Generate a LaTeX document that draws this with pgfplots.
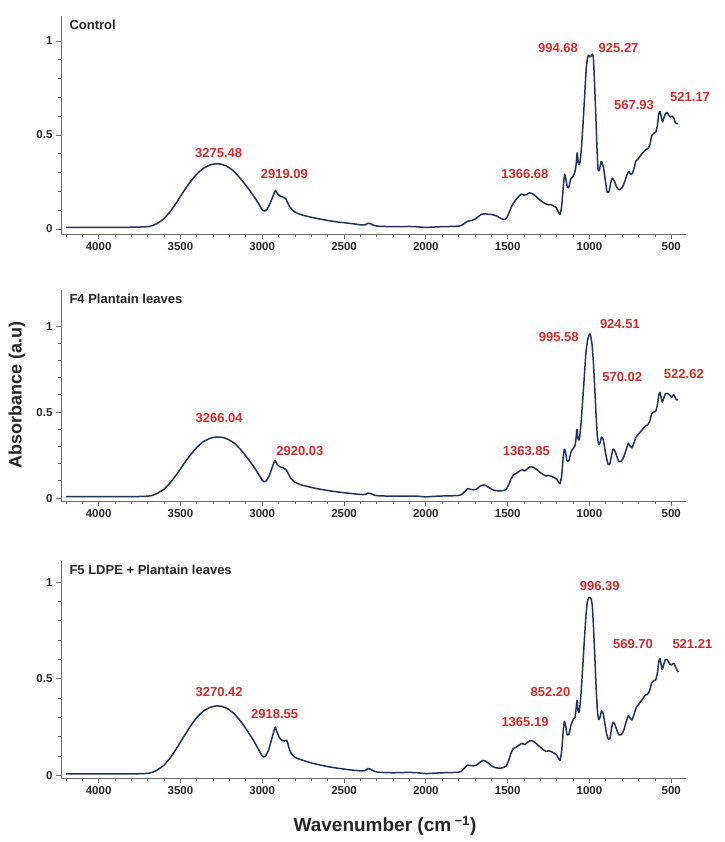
\documentclass[border=0pt]{standalone}
\usepackage{fontspec}
\setmainfont{Liberation Sans}
\usepackage{pgfplots}
\pgfplotsset{compat=1.18}

\definecolor{spec}{RGB}{33,50,92}
\definecolor{peaklbl}{RGB}{206,44,44}
\definecolor{axgray}{RGB}{105,105,105}

\pgfplotsset{
  ftir/.style={
    scale only axis, width=625pt,
    x dir=reverse, xmin=410, xmax=4230,
    axis lines=left, axis line style={-, axgray, line width=0.9pt},
    xtick={500,1000,...,4000}, minor xtick={500,600,...,4200},
    ytick={0,0.5,1}, minor ytick={0,0.1,...,1},
    tick align=outside, major tick length=5pt, minor tick length=3pt,
    every tick/.style={axgray, line width=0.8pt},
    tick label style={font=\fontsize{11.5}{12}\selectfont\bfseries, color=black!85},
    /pgf/number format/assume math mode=true,
    /pgf/number format/set thousands separator={},
    clip=false,
  },
  spectrum/.style={spec, line width=1.5pt, line join=round, no markers, smooth, tension=0.3},
}
\tikzset{
  lbl/.style={font=\fontsize{13}{14}\selectfont\bfseries, text=peaklbl},
  ttl/.style={font=\fontsize{13}{14}\selectfont\bfseries, text=black!85, anchor=west, yshift=-9pt},
}

\begin{document}
\begin{tikzpicture}
\path[use as bounding box] (0,0) rectangle (724pt,842pt);

% ---------------- Control ----------------
\begin{axis}[ftir, at={(61pt,608pt)}, anchor=south west, height=218pt, ymin=-0.027, ymax=1.133]
\addplot[spectrum] coordinates {
(4200,0.008)(4100,0.008)(4000,0.008)(3900,0.008)(3800,0.009)(3750,0.010)(3700,0.012)
(3670,0.018)(3640,0.030)(3600,0.055)(3560,0.095)(3520,0.145)(3480,0.200)(3440,0.250)
(3400,0.292)(3360,0.322)(3320,0.340)(3290,0.346)(3275,0.347)(3250,0.344)(3220,0.335)
(3180,0.312)(3140,0.275)(3100,0.232)(3060,0.185)(3030,0.145)(3010,0.115)(2995,0.098)
(2985,0.095)(2970,0.105)(2950,0.140)(2930,0.185)(2919,0.205)(2905,0.185)(2890,0.175)
(2870,0.168)(2855,0.160)(2845,0.140)(2830,0.115)(2800,0.090)(2760,0.075)(2700,0.062)
(2650,0.053)(2600,0.045)(2550,0.038)(2500,0.033)(2450,0.028)(2400,0.022)(2370,0.022)
(2355,0.030)(2340,0.028)(2320,0.020)(2300,0.015)(2250,0.013)(2200,0.012)(2150,0.012)
(2100,0.013)(2050,0.011)(2000,0.008)(1950,0.010)(1900,0.012)(1850,0.013)(1800,0.015)
(1780,0.020)(1760,0.032)(1740,0.042)(1720,0.045)(1700,0.052)(1680,0.065)(1660,0.078)
(1640,0.080)(1620,0.078)(1600,0.077)(1580,0.073)(1560,0.066)(1540,0.055)(1520,0.050)
(1505,0.060)(1490,0.090)(1470,0.130)(1450,0.155)(1430,0.175)(1415,0.185)(1400,0.180)
(1385,0.182)(1366,0.192)(1350,0.188)(1330,0.175)(1310,0.160)(1290,0.145)(1270,0.135)
(1250,0.128)(1235,0.130)(1220,0.122)(1205,0.115)(1195,0.100)(1180,0.078)(1170,0.120)
(1160,0.225)(1152,0.290)(1145,0.270)(1135,0.220)(1125,0.225)(1115,0.265)(1100,0.280)
(1090,0.300)(1082,0.340)(1075,0.405)(1068,0.350)(1060,0.345)(1050,0.420)(1040,0.550)
(1030,0.700)(1020,0.850)(1012,0.910)(1005,0.925)(997,0.915)(990,0.920)(982,0.930)
(976,0.910)(970,0.800)(962,0.620)(955,0.450)(948,0.320)(940,0.310)(928,0.360)
(915,0.330)(905,0.270)(892,0.195)(880,0.200)(870,0.245)(860,0.270)(848,0.255)
(835,0.225)(819,0.208)(800,0.220)(785,0.250)(770,0.290)(759,0.305)(748,0.290)
(738,0.295)(725,0.330)(717,0.360)(700,0.375)(680,0.400)(657,0.420)(640,0.430)
(630,0.450)(620,0.495)(605,0.510)(595,0.515)(585,0.550)(576,0.615)(568,0.625)
(560,0.590)(553,0.570)(545,0.590)(535,0.615)(525,0.620)(515,0.605)(505,0.595)
(495,0.600)(485,0.590)(475,0.565)(465,0.560)(458,0.560)
};
\node[ttl] at (rel axis cs:0.008,1) {Control};
\node[lbl] at (axis cs:3266,0.405) {3275.48};
\node[lbl] at (axis cs:2865,0.290) {2919.09};
\node[lbl] at (axis cs:1395,0.290) {1366.68};
\node[lbl] at (axis cs:1192,0.960) {994.68};
\node[lbl] at (axis cs:822,0.960) {925.27};
\node[lbl] at (axis cs:728,0.660) {567.93};
\node[lbl] at (axis cs:385,0.700) {521.17};
\end{axis}

% ---------------- F4 ----------------
\begin{axis}[ftir, at={(61pt,341pt)}, anchor=south west, height=211pt, ymin=-0.017, ymax=1.21]
\addplot[spectrum] coordinates {
(4200,0.008)(4000,0.008)(3800,0.008)(3700,0.011)(3670,0.016)(3640,0.028)(3600,0.052)
(3560,0.092)(3520,0.142)(3480,0.198)(3440,0.250)(3400,0.295)(3360,0.328)(3320,0.347)
(3290,0.354)(3266,0.355)(3240,0.352)(3210,0.342)(3170,0.318)(3130,0.280)(3090,0.232)
(3050,0.180)(3020,0.135)(3000,0.105)(2988,0.095)(2975,0.100)(2955,0.135)(2935,0.190)
(2922,0.218)(2908,0.195)(2890,0.182)(2870,0.175)(2852,0.162)(2840,0.140)(2825,0.115)
(2800,0.092)(2760,0.076)(2700,0.062)(2650,0.052)(2600,0.044)(2550,0.037)(2500,0.031)
(2450,0.026)(2400,0.021)(2370,0.021)(2355,0.029)(2340,0.027)(2320,0.019)(2300,0.014)
(2250,0.012)(2200,0.012)(2150,0.012)(2100,0.012)(2050,0.011)(2000,0.007)(1950,0.010)
(1900,0.012)(1850,0.013)(1800,0.015)(1780,0.022)(1760,0.040)(1745,0.055)(1730,0.052)
(1710,0.048)(1690,0.052)(1670,0.068)(1650,0.076)(1630,0.072)(1610,0.058)(1590,0.048)
(1570,0.043)(1550,0.042)(1530,0.043)(1510,0.050)(1495,0.075)(1480,0.110)(1465,0.135)
(1450,0.142)(1430,0.155)(1412,0.165)(1395,0.158)(1378,0.172)(1362,0.182)(1345,0.180)
(1325,0.168)(1305,0.152)(1285,0.138)(1265,0.128)(1250,0.132)(1235,0.128)(1215,0.118)
(1200,0.110)(1190,0.095)(1180,0.084)(1170,0.130)(1160,0.240)(1153,0.285)(1145,0.260)
(1137,0.215)(1125,0.220)(1112,0.270)(1098,0.290)(1088,0.305)(1082,0.350)(1076,0.400)
(1070,0.345)(1062,0.340)(1052,0.430)(1042,0.560)(1032,0.700)(1022,0.840)(1012,0.915)
(1004,0.945)(998,0.955)(992,0.940)(984,0.890)(976,0.790)(968,0.645)(960,0.490)
(952,0.360)(944,0.312)(936,0.320)(926,0.355)(916,0.340)(905,0.280)(895,0.230)
(885,0.195)(875,0.200)(865,0.250)(855,0.285)(845,0.275)(832,0.240)(820,0.212)
(805,0.215)(790,0.240)(775,0.285)(762,0.318)(750,0.300)(740,0.292)(728,0.320)
(715,0.355)(700,0.372)(680,0.395)(660,0.418)(645,0.425)(632,0.445)(620,0.490)
(607,0.500)(595,0.505)(585,0.540)(576,0.600)(569,0.615)(562,0.585)(555,0.558)
(546,0.580)(537,0.605)(528,0.610)(518,0.605)(508,0.598)(498,0.585)(490,0.598)
(482,0.600)(474,0.578)(465,0.570)(460,0.575)
};
\node[ttl] at (rel axis cs:0.008,1) {F4 Plantain leaves};
\node[lbl] at (axis cs:3263,0.468) {3266.04};
\node[lbl] at (axis cs:2770,0.275) {2920.03};
\node[lbl] at (axis cs:1386,0.275) {1363.85};
\node[lbl] at (axis cs:1188,0.936) {995.58};
\node[lbl] at (axis cs:814,1.015) {924.51};
\node[lbl] at (axis cs:800,0.706) {570.02};
\node[lbl] at (axis cs:423,0.720) {522.62};
\end{axis}

% ---------------- F5 ----------------
\begin{axis}[ftir, at={(61pt,64pt)}, anchor=south west, height=217pt, ymin=-0.013, ymax=1.11]
\addplot[spectrum] coordinates {
(4200,0.008)(4000,0.008)(3800,0.008)(3700,0.011)(3670,0.017)(3640,0.029)(3600,0.054)
(3560,0.094)(3520,0.145)(3480,0.200)(3440,0.254)(3400,0.300)(3360,0.333)(3320,0.352)
(3290,0.359)(3270,0.360)(3245,0.357)(3215,0.347)(3175,0.322)(3135,0.284)(3095,0.236)
(3055,0.184)(3025,0.138)(3005,0.108)(2992,0.096)(2980,0.100)(2962,0.130)(2945,0.180)
(2930,0.225)(2920,0.250)(2910,0.225)(2895,0.195)(2880,0.183)(2865,0.178)(2852,0.183)
(2845,0.170)(2832,0.130)(2815,0.105)(2790,0.090)(2750,0.078)(2700,0.065)(2650,0.055)
(2600,0.046)(2550,0.039)(2500,0.033)(2450,0.028)(2400,0.024)(2370,0.026)(2355,0.036)
(2340,0.033)(2320,0.024)(2300,0.018)(2250,0.015)(2200,0.014)(2150,0.015)(2100,0.016)
(2050,0.014)(2000,0.010)(1950,0.012)(1900,0.014)(1850,0.015)(1800,0.017)(1780,0.024)
(1760,0.042)(1745,0.054)(1730,0.052)(1710,0.050)(1690,0.054)(1670,0.068)(1650,0.078)
(1630,0.072)(1610,0.058)(1590,0.045)(1570,0.040)(1550,0.038)(1530,0.040)(1510,0.048)
(1495,0.075)(1480,0.115)(1465,0.140)(1450,0.145)(1430,0.158)(1412,0.166)(1395,0.160)
(1378,0.172)(1362,0.180)(1345,0.178)(1325,0.165)(1305,0.150)(1285,0.135)(1265,0.124)
(1250,0.128)(1235,0.124)(1215,0.115)(1200,0.105)(1190,0.090)(1180,0.078)(1170,0.125)
(1160,0.235)(1153,0.280)(1145,0.255)(1137,0.210)(1125,0.215)(1112,0.265)(1098,0.290)
(1088,0.300)(1082,0.345)(1076,0.390)(1070,0.335)(1062,0.330)(1052,0.420)(1042,0.550)
(1032,0.690)(1022,0.820)(1014,0.895)(1006,0.918)(998,0.922)(990,0.915)(983,0.880)
(976,0.780)(968,0.630)(960,0.470)(952,0.340)(944,0.290)(936,0.300)(926,0.335)
(916,0.320)(905,0.265)(895,0.215)(885,0.188)(875,0.190)(865,0.245)(855,0.276)
(845,0.265)(832,0.232)(820,0.210)(805,0.212)(790,0.235)(775,0.280)(762,0.310)
(750,0.295)(740,0.288)(728,0.315)(715,0.350)(700,0.368)(680,0.390)(660,0.415)
(645,0.420)(632,0.440)(620,0.478)(607,0.490)(595,0.495)(585,0.530)(576,0.590)
(569,0.605)(562,0.575)(555,0.548)(546,0.575)(537,0.598)(528,0.602)(518,0.590)
(508,0.575)(498,0.572)(490,0.580)(482,0.578)(474,0.562)(465,0.545)(458,0.535)
};
\node[ttl] at (rel axis cs:0.008,1) {F5 LDPE + Plantain leaves};
\node[lbl] at (axis cs:3263,0.431) {3270.42};
\node[lbl] at (axis cs:2924,0.319) {2918.55};
\node[lbl] at (axis cs:1394,0.276) {1365.19};
\node[lbl] at (axis cs:1238,0.431) {852.20};
\node[lbl] at (axis cs:937,0.978) {996.39};
\node[lbl] at (axis cs:734,0.678) {569.70};
\node[lbl] at (axis cs:371,0.678) {521.21};
\end{axis}

% shared axis titles
\node[rotate=90, font=\fontsize{18}{20}\selectfont\bfseries, text=black!85] at (17pt,447pt) {Absorbance (a.u)};
\node[font=\fontsize{19}{21}\selectfont\bfseries, text=black!85] at (385pt,16pt) {Wavenumber (cm\,\textsuperscript{−1})};
\end{tikzpicture}
\end{document}
